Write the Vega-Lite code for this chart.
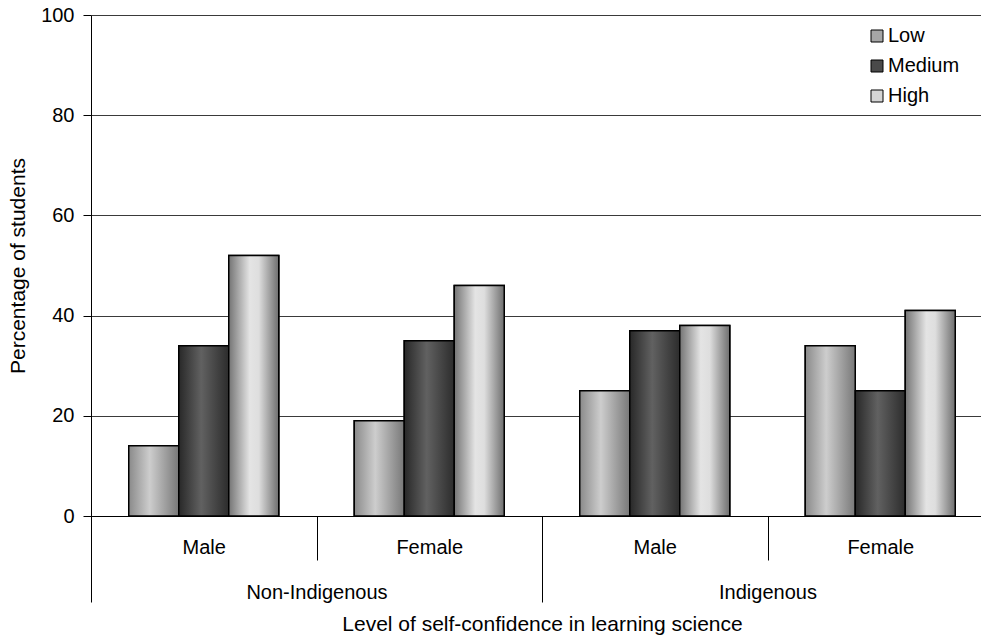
{
  "$schema": "https://vega.github.io/schema/vega-lite/v6.json",
  "width": 890,
  "height": 501,
  "autosize": {"type": "none"},
  "padding": {"left": 91, "top": 15, "right": 0, "bottom": 122},
  "background": "white",
  "config": {
    "view": {"stroke": null},
    "font": "Liberation Sans",
    "axis": {
      "labelFont": "Liberation Sans",
      "titleFont": "Liberation Sans",
      "labelColor": "black",
      "titleColor": "black",
      "tickColor": "black",
      "domainColor": "black",
      "titleFontWeight": "normal",
      "labelFontSize": 20,
      "titleFontSize": 21
    },
    "legend": {"labelFont": "Liberation Sans", "labelColor": "black"}
  },
  "datasets": {
    "d": [
      {"group": "Non-Indigenous", "gender": "Male", "cat": "Non-Indigenous|Male", "level": "Low", "value": 14},
      {"group": "Non-Indigenous", "gender": "Male", "cat": "Non-Indigenous|Male", "level": "Medium", "value": 34},
      {"group": "Non-Indigenous", "gender": "Male", "cat": "Non-Indigenous|Male", "level": "High", "value": 52},
      {"group": "Non-Indigenous", "gender": "Female", "cat": "Non-Indigenous|Female", "level": "Low", "value": 19},
      {"group": "Non-Indigenous", "gender": "Female", "cat": "Non-Indigenous|Female", "level": "Medium", "value": 35},
      {"group": "Non-Indigenous", "gender": "Female", "cat": "Non-Indigenous|Female", "level": "High", "value": 46},
      {"group": "Indigenous", "gender": "Male", "cat": "Indigenous|Male", "level": "Low", "value": 25},
      {"group": "Indigenous", "gender": "Male", "cat": "Indigenous|Male", "level": "Medium", "value": 37},
      {"group": "Indigenous", "gender": "Male", "cat": "Indigenous|Male", "level": "High", "value": 38},
      {"group": "Indigenous", "gender": "Female", "cat": "Indigenous|Female", "level": "Low", "value": 34},
      {"group": "Indigenous", "gender": "Female", "cat": "Indigenous|Female", "level": "Medium", "value": 25},
      {"group": "Indigenous", "gender": "Female", "cat": "Indigenous|Female", "level": "High", "value": 41}
    ]
  },
  "data": {"name": "d"},
  "layer": [
    {
      "encoding": {
        "x": {
          "field": "cat",
          "type": "nominal",
          "scale": {
            "type": "band",
            "domain": ["Non-Indigenous|Male", "Non-Indigenous|Female", "Indigenous|Male", "Indigenous|Female"],
            "range": [0, 902],
            "paddingInner": 0,
            "paddingOuter": 0
          },
          "axis": {
            "orient": "bottom",
            "title": null,
            "labelExpr": "split(datum.label, '|')[1]",
            "tickBand": "extent",
            "tickSize": 44,
            "tickWidth": 1,
            "labelPadding": -23,
            "labelBaseline": "top",
            "labelAngle": 0,
            "grid": false
          }
        },
        "xOffset": {
          "field": "level",
          "type": "nominal",
          "scale": {"domain": ["Low", "Medium", "High"], "paddingInner": 0, "paddingOuter": 0.755}
        },
        "y": {
          "field": "value",
          "type": "quantitative",
          "scale": {"domain": [0, 100], "nice": false},
          "axis": {
            "values": [0, 20, 40, 60, 80, 100],
            "title": "Percentage of students",
            "grid": true,
            "gridColor": "#3a3a3a",
            "gridWidth": 1,
            "tickSize": 8,
            "labelPadding": 9,
            "titlePadding": 12
          }
        }
      },
      "layer": [
        {
          "mark": {"type": "bar", "stroke": "black", "strokeWidth": 1.5},
          "encoding": {
            "fill": {
              "field": "level",
              "type": "nominal",
              "scale": {"domain": ["Low", "Medium", "High"], "range": ["#a6a6a6", "#4a4a4a", "#d4d4d4"]},
              "legend": {
                "title": null,
                "orient": "none",
                "legendX": 776,
                "legendY": 11,
                "symbolType": "square",
                "symbolSize": 144,
                "symbolStrokeColor": "black",
                "symbolStrokeWidth": 1,
                "labelFontSize": 20,
                "labelOffset": 1,
                "rowPadding": 10,
                "padding": 0
              }
            }
          }
        },
        {
          "transform": [{"filter": "datum.level === 'Low'"}],
          "mark": {
            "type": "bar",
            "stroke": "black",
            "strokeWidth": 1.5,
            "fill": {
              "gradient": "linear", "x1": 0, "y1": 0, "x2": 1, "y2": 0,
              "stops": [
                {"offset": 0, "color": "#8a8a8a"},
                {"offset": 0.42, "color": "#cdcdcd"},
                {"offset": 1, "color": "#787878"}
              ]
            }
          }
        },
        {
          "transform": [{"filter": "datum.level === 'Medium'"}],
          "mark": {
            "type": "bar",
            "stroke": "black",
            "strokeWidth": 1.5,
            "fill": {
              "gradient": "linear", "x1": 0, "y1": 0, "x2": 1, "y2": 0,
              "stops": [
                {"offset": 0, "color": "#282828"},
                {"offset": 0.45, "color": "#616161"},
                {"offset": 1, "color": "#2c2c2c"}
              ]
            }
          }
        },
        {
          "transform": [{"filter": "datum.level === 'High'"}],
          "mark": {
            "type": "bar",
            "stroke": "black",
            "strokeWidth": 1.5,
            "fill": {
              "gradient": "linear", "x1": 0, "y1": 0, "x2": 1, "y2": 0,
              "stops": [
                {"offset": 0, "color": "#747474"},
                {"offset": 0.42, "color": "#e4e4e4"},
                {"offset": 0.6, "color": "#dedede"},
                {"offset": 1, "color": "#6e6e6e"}
              ]
            }
          }
        }
      ]
    },
    {
      "mark": {"type": "point", "opacity": 0},
      "encoding": {
        "x": {
          "field": "group",
          "type": "nominal",
          "scale": {
            "type": "band",
            "domain": ["Non-Indigenous", "Indigenous"],
            "range": [0, 902],
            "paddingInner": 0,
            "paddingOuter": 0
          },
          "axis": {
            "orient": "bottom",
            "title": "Level of self-confidence in learning science",
            "tickBand": "extent",
            "tickSize": 86,
            "tickWidth": 1,
            "domain": false,
            "grid": false,
            "labelPadding": -20,
            "labelBaseline": "top",
            "labelAngle": 0,
            "titlePadding": 11
          }
        },
        "y": {"field": "value", "type": "quantitative"}
      }
    }
  ],
  "resolve": {"scale": {"x": "independent"}, "axis": {"x": "independent"}}
}
